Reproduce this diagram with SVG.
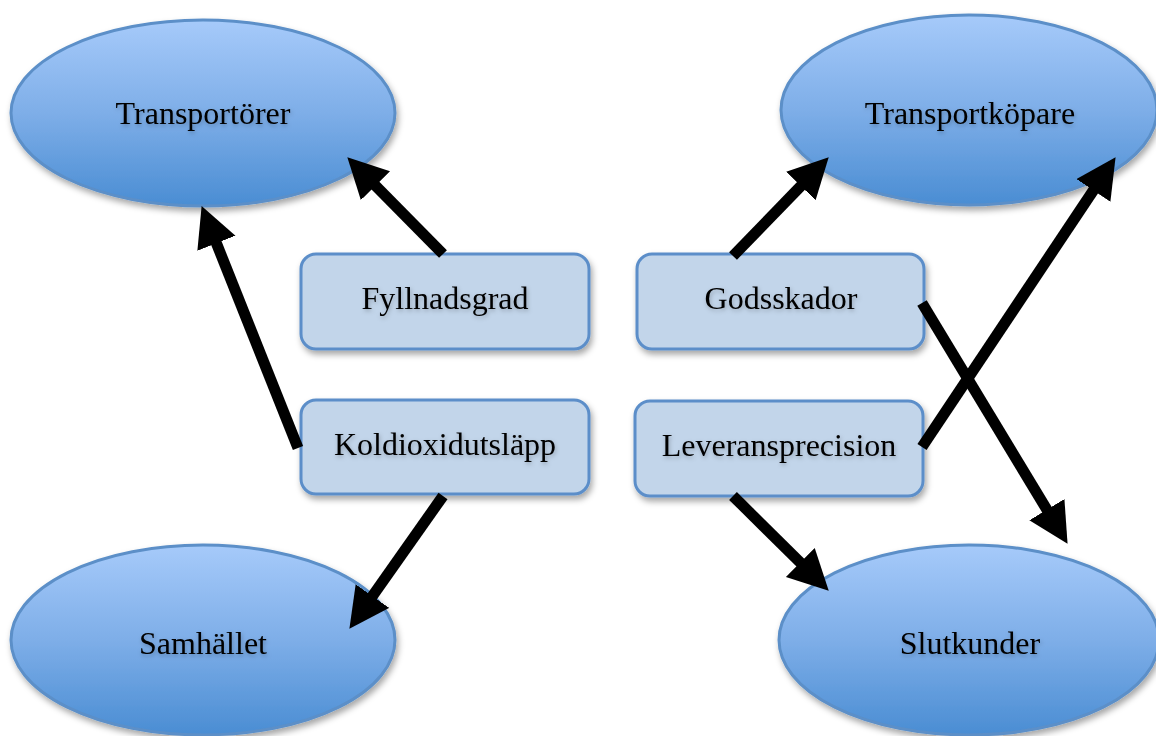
<svg xmlns="http://www.w3.org/2000/svg" width="1156" height="736" viewBox="0 0 1156 736">
<defs>
  <linearGradient id="eg" x1="0" y1="0" x2="0" y2="1">
    <stop offset="0" stop-color="#a6cafa"/>
    <stop offset="0.5" stop-color="#7eaee8"/>
    <stop offset="1" stop-color="#4a8dd3"/>
  </linearGradient>
  <filter id="sh" x="-10%" y="-10%" width="125%" height="130%">
    <feDropShadow dx="2" dy="4" stdDeviation="3" flood-color="#000" flood-opacity="0.35"/>
  </filter>
  <filter id="tsh" x="-10%" y="-30%" width="120%" height="170%">
    <feDropShadow dx="1" dy="2" stdDeviation="2" flood-color="#000" flood-opacity="0.25"/>
  </filter>
  <marker id="ah" markerUnits="userSpaceOnUse" markerWidth="41" markerHeight="42" refX="19" refY="20.5" orient="auto">
    <path d="M0,0 L40,20.5 L0,41 z" fill="#000"/>
  </marker>
</defs>
<style>
  .ell { fill: url(#eg); stroke: #5b8fc8; stroke-width: 3; filter: url(#sh); }
  .box { fill: #c2d5ea; stroke: #5b8ec9; stroke-width: 3; filter: url(#sh); }
  .lbl { font-family: "Liberation Serif", "Times New Roman", serif; font-size: 32px; fill: #000; text-anchor: middle; filter: url(#tsh); }
  .arr { stroke: #000; stroke-width: 11; fill: none; marker-end: url(#ah); }
</style>
<rect width="1156" height="736" fill="#fff"/>
<g id="transportorer">
  <ellipse class="ell" cx="203" cy="113" rx="192" ry="93"/>
  <text class="lbl" x="203" y="124">Transportörer</text>
</g>
<g id="transportkopare">
  <ellipse class="ell" cx="969" cy="110" rx="188" ry="95"/>
  <text class="lbl" x="970" y="124">Transportköpare</text>
</g>
<g id="samhallet">
  <ellipse class="ell" cx="203" cy="640" rx="192" ry="95"/>
  <text class="lbl" x="203" y="654">Samhället</text>
</g>
<g id="slutkunder">
  <ellipse class="ell" cx="969" cy="640" rx="190" ry="95"/>
  <text class="lbl" x="970" y="654">Slutkunder</text>
</g>
<g id="fyllnadsgrad">
  <rect class="box" x="301" y="254" width="288" height="95" rx="15" ry="15"/>
  <text class="lbl" x="445" y="309">Fyllnadsgrad</text>
</g>
<g id="koldioxidutslapp">
  <rect class="box" x="301" y="400" width="288" height="94" rx="15" ry="15"/>
  <text class="lbl" x="445" y="455">Koldioxidutsläpp</text>
</g>
<g id="godsskador">
  <rect class="box" x="637" y="254" width="287" height="95" rx="15" ry="15"/>
  <text class="lbl" x="781" y="309">Godsskador</text>
</g>
<g id="leveransprecision">
  <rect class="box" x="635" y="401" width="288" height="95" rx="15" ry="15"/>
  <text class="lbl" x="779" y="456">Leveransprecision</text>
</g>
<g id="connectors">
  <line class="arr" x1="443" y1="254" x2="362.1" y2="172.2"/>
  <line class="arr" x1="298" y1="448" x2="209.4" y2="225.6"/>
  <line class="arr" x1="443" y1="496" x2="361.5" y2="611.7"/>
  <line class="arr" x1="733" y1="256" x2="814.1" y2="172.4"/>
  <line class="arr" x1="922" y1="447" x2="1103.9" y2="174.6"/>
  <line class="arr" x1="922" y1="303" x2="1056.7" y2="525.9"/>
  <line class="arr" x1="733" y1="496" x2="813.8" y2="575.9"/>
</g>
</svg>
